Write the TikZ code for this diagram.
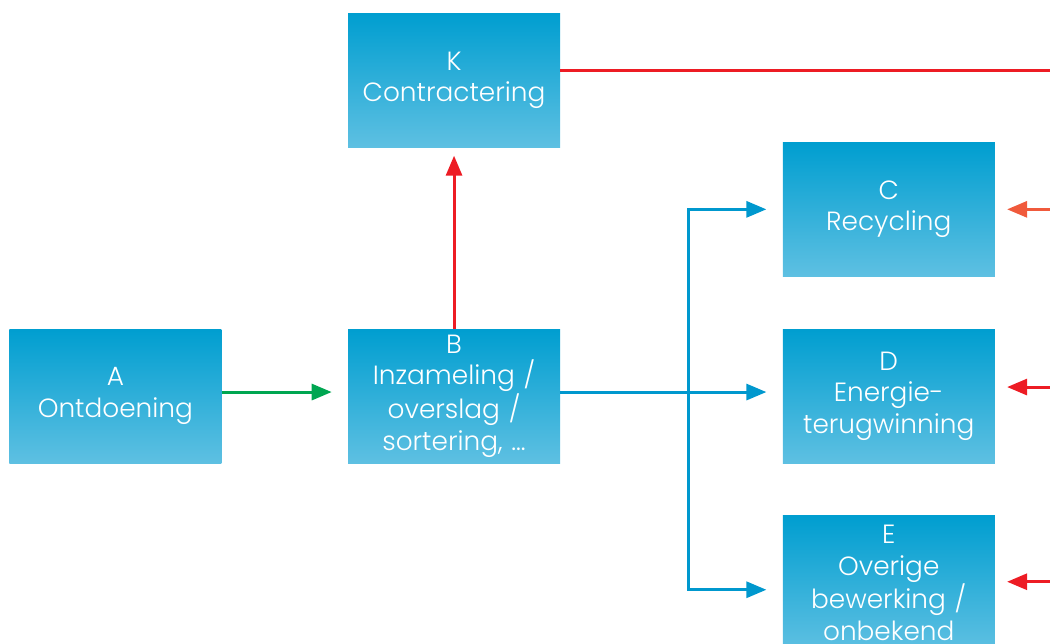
\documentclass[tikz,border=0pt]{standalone}
\usepackage{fontspec}
\newfontfamily\boxfont{Poppins Light}
\usepackage{xcolor}
\usetikzlibrary{arrows.meta,positioning,calc}
\definecolor{boxtop}{RGB}{0,158,208}
\definecolor{boxbot}{RGB}{94,192,226}
\definecolor{linkblue}{RGB}{0,152,206}
\definecolor{linkred}{RGB}{237,28,36}
\definecolor{linkgreen}{RGB}{0,166,81}
\definecolor{linkorange}{RGB}{240,90,60}

\begin{document}
\begin{tikzpicture}[>={Triangle[length=0.4cm,width=0.32cm]},
	main node/.style={rectangle,inner sep=0pt,top color=boxtop,bottom color=boxbot,
		text=white,font=\boxfont\fontsize{15}{18}\selectfont,align=center,
		minimum width=4.24cm,minimum height=2.68cm,text width=4cm},
	flow/.style={line width=1.7pt,->}]

    \node[main node] (A) {A\\Ontdoening};
    \node[main node] (B) [right = 2.52cm of A] {B\\Inzameling /\\overslag /\\sortering, ...};
    \node[main node] (K) [above = 3.62cm of B] {K\\Contractering};
    \node[main node] (D) [right = 4.44cm of B] {D\\Energie-\\terugwinning};
    \node[main node] (C) [above = 1.04cm of D] {C\\Recycling};
    \node[main node] (E) [below = 1.04cm of D] {E\\Overige\\bewerking /\\onbekend};

    \coordinate (bus) at ([xshift=2.56cm,yshift=0.08cm]B.east);
    \coordinate (rim) at ([xshift=1.4cm]D.east);

    % inflow and contract line
    \draw[flow,color=linkgreen] ([yshift=0.08cm]A.east) -- ([xshift=-0.32cm,yshift=0.08cm]B.west);
    \draw[flow,color=linkred] (B.north) -- ([yshift=-0.16cm]K.south);
    \draw[line width=1.7pt,color=linkred] ([yshift=0.2cm]K.east) -- ([yshift=0.2cm]K.east -| rim);

    % processing routes
    \draw[flow,color=linkblue] ([yshift=0.08cm]B.east) -- ([xshift=-0.32cm,yshift=0.08cm]D.west);
    \draw[flow,color=linkblue,<->] ([xshift=-0.32cm]C.west) -| (bus) |- ([xshift=-0.32cm,yshift=-0.14cm]E.west);

    % incoming from the right
    \draw[flow,color=linkorange] (C.east -| rim) -- ([xshift=0.24cm]C.east);
    \draw[flow,color=linkred] ([yshift=0.18cm]D.east -| rim) -- ([xshift=0.24cm,yshift=0.18cm]D.east);
    \draw[flow,color=linkred] ([yshift=0.02cm]E.east -| rim) -- ([xshift=0.24cm,yshift=0.02cm]E.east);

    \coordinate (tl) at ($(A.west|-K.north)+(-0.18,0.26)$);
    \pgfresetboundingbox
    \useasboundingbox (tl) rectangle ++(21,-12.88);
\end{tikzpicture}
\end{document}
